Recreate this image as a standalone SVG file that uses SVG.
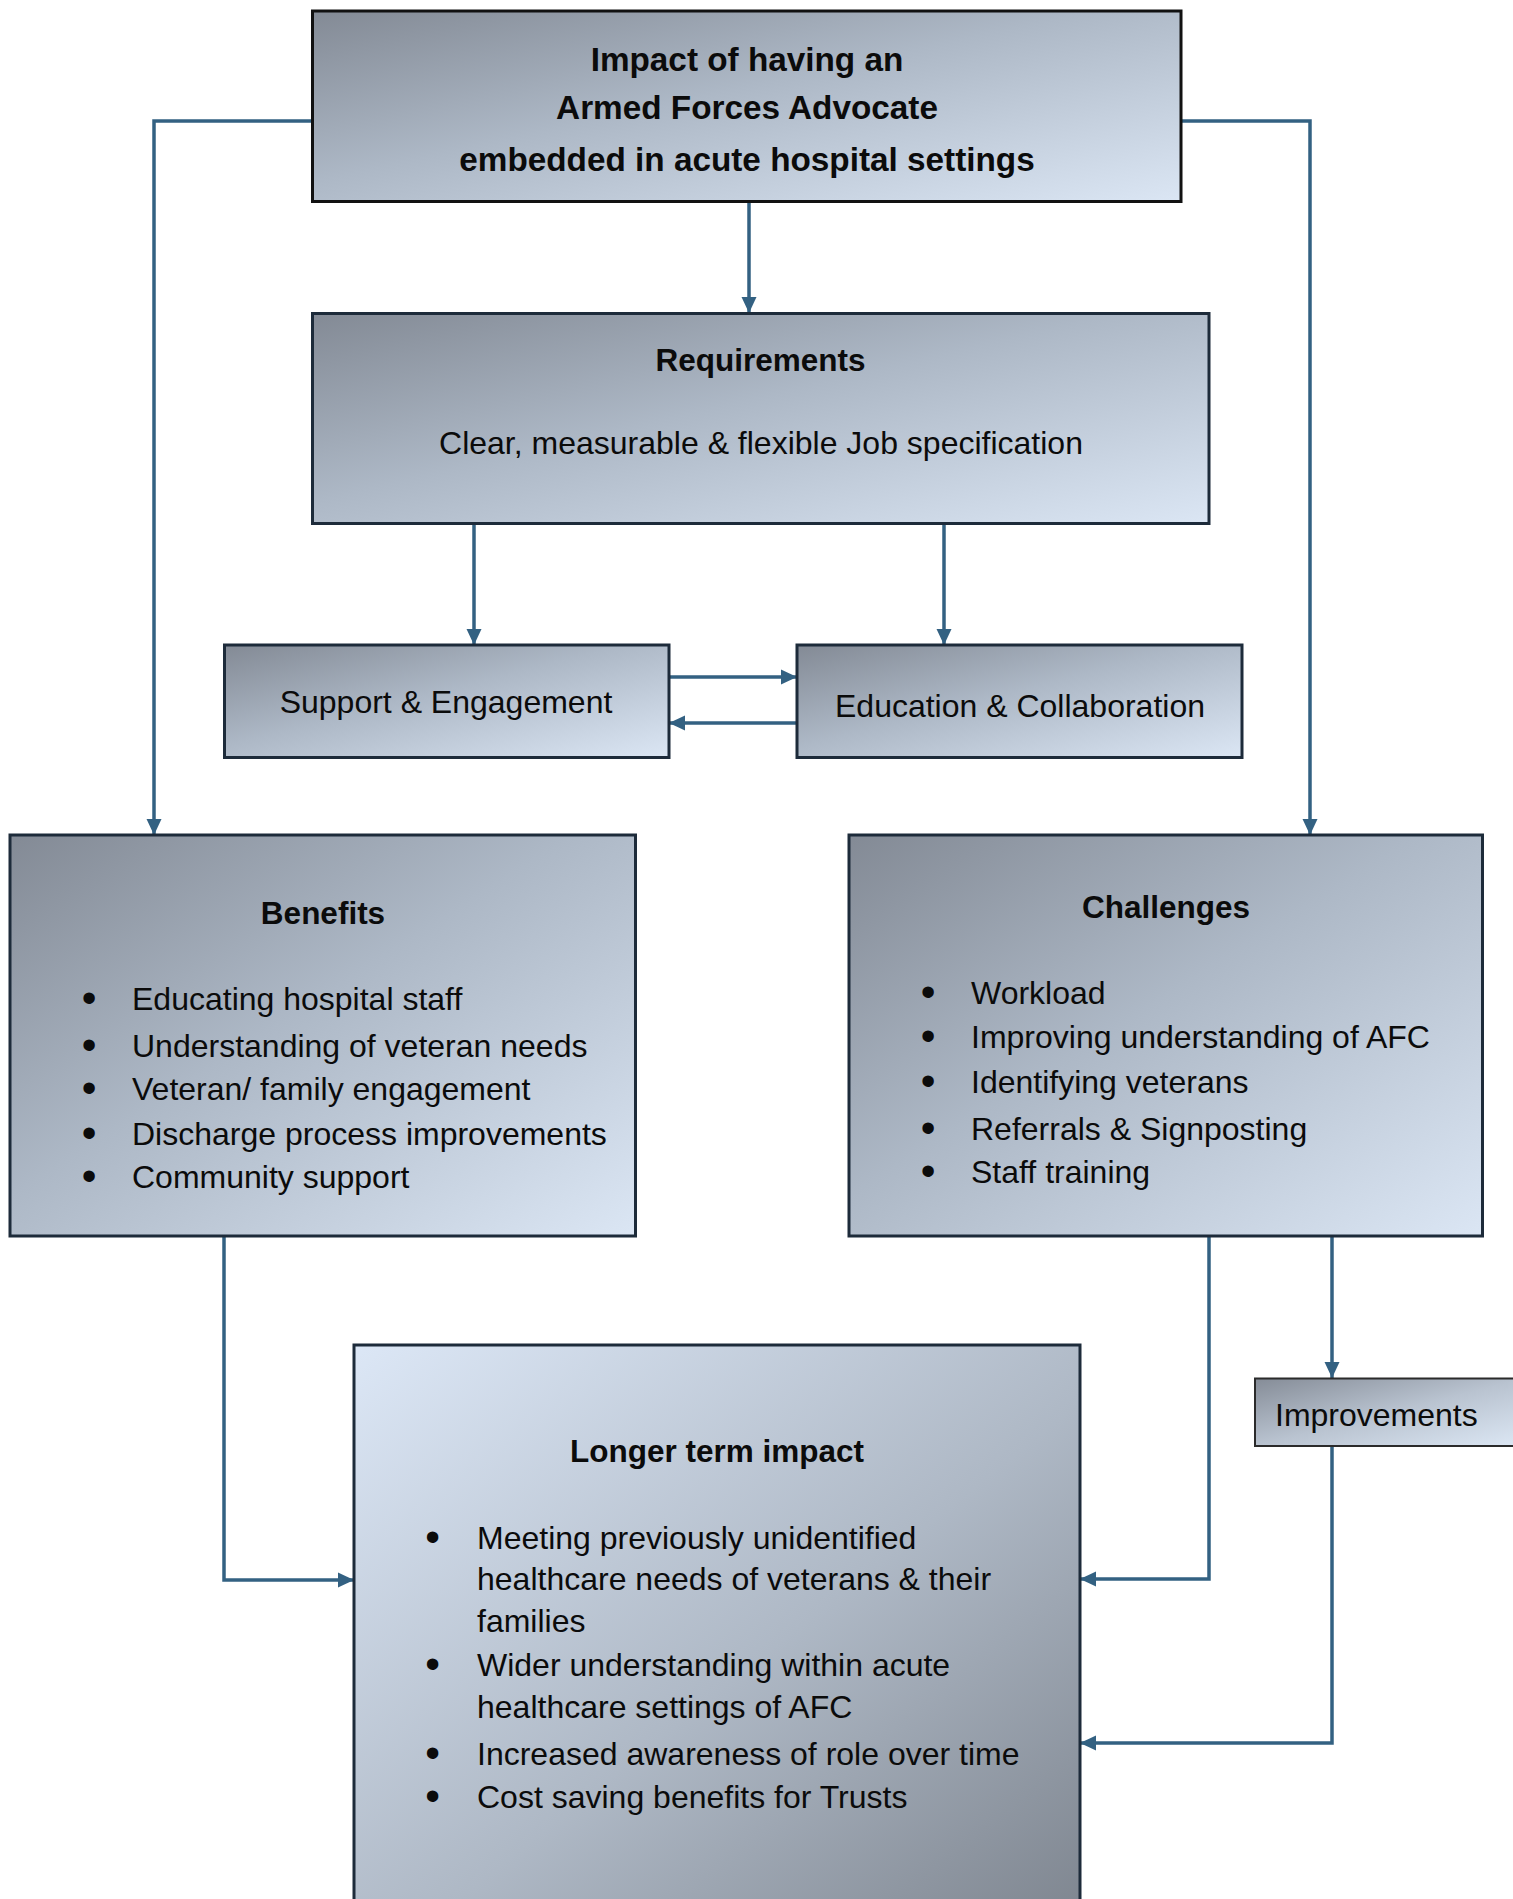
<svg xmlns="http://www.w3.org/2000/svg" width="1513" height="1899" viewBox="0 0 1513 1899">
<style>
.box{stroke:#1d2b3a;stroke-width:3}
.t{font-family:"Liberation Sans",Arial,sans-serif;font-size:32px;fill:#0b0b0b}
.b{font-weight:bold;font-size:31.5px}
.c{text-anchor:middle}
.bul{font-family:"Liberation Sans",Arial,sans-serif;font-size:42px;fill:#0b0b0b;text-anchor:middle}
.top{font-family:"Liberation Sans",Arial,sans-serif;font-size:33.3px;font-weight:bold;fill:#0b0b0b;text-anchor:middle}
.conn{fill:none;stroke:#336182;stroke-width:3.5}
</style>
<defs>
<linearGradient id="g" x1="0" y1="0" x2="1" y2="1">
<stop offset="0" stop-color="#838a95"/>
<stop offset="0.45" stop-color="#adb8c6"/>
<stop offset="1" stop-color="#dbe6f4"/>
</linearGradient>
<linearGradient id="gr" x1="0" y1="0" x2="1" y2="1">
<stop offset="0" stop-color="#dce7f6"/>
<stop offset="0.55" stop-color="#aeb8c5"/>
<stop offset="1" stop-color="#7e858f"/>
</linearGradient>
<linearGradient id="gi" x1="0" y1="0" x2="1" y2="1">
<stop offset="0" stop-color="#858c97"/>
<stop offset="0.5" stop-color="#b9c3d0"/>
<stop offset="1" stop-color="#dde8f5"/>
</linearGradient>
<marker id="ah" markerUnits="userSpaceOnUse" markerWidth="18" markerHeight="18" viewBox="0 0 18 18" refX="16" refY="9" orient="auto">
<path d="M0 1.5 L16 9 L0 16.5 Z" fill="#336182"/>
</marker>
</defs>

<g id="connectors">
<path class="conn" d="M749 202 V313" marker-end="url(#ah)"/>
<path class="conn" d="M312 121 H154 V835" marker-end="url(#ah)"/>
<path class="conn" d="M1181 121 H1310 V835" marker-end="url(#ah)"/>
<path class="conn" d="M474 524 V645" marker-end="url(#ah)"/>
<path class="conn" d="M944 524 V645" marker-end="url(#ah)"/>
<path class="conn" d="M669 677 H797" marker-end="url(#ah)"/>
<path class="conn" d="M797 723 H669" marker-end="url(#ah)"/>
<path class="conn" d="M224 1236 V1580 H354" marker-end="url(#ah)"/>
<path class="conn" d="M1209 1236 V1579 H1080" marker-end="url(#ah)"/>
<path class="conn" d="M1332 1236 V1378" marker-end="url(#ah)"/>
<path class="conn" d="M1332 1446 V1743 H1080" marker-end="url(#ah)"/>
</g>

<g id="node-top">
<rect x="312.5" y="11" width="868.5" height="190.5" fill="url(#g)" stroke="#111" stroke-width="3"/>
<text class="top" x="747" y="71">Impact of having an</text>
<text class="top" x="747" y="119">Armed Forces Advocate</text>
<text class="top" x="747" y="171">embedded in acute hospital settings</text>
</g>

<g id="node-requirements">
<rect class="box" x="312.5" y="313.5" width="896.5" height="210" fill="url(#g)"/>
<text class="t b c" x="760.5" y="371">Requirements</text>
<text class="t c" x="761" y="454">Clear, measurable &amp; flexible Job specification</text>
</g>

<g id="node-support">
<rect class="box" x="224.5" y="645" width="444.5" height="112.5" fill="url(#g)"/>
<text class="t c" x="446" y="713">Support &amp; Engagement</text>
</g>

<g id="node-education">
<rect class="box" x="797" y="645" width="445" height="112.5" fill="url(#g)"/>
<text class="t c" x="1020" y="717">Education &amp; Collaboration</text>
</g>

<g id="node-benefits">
<rect class="box" x="10" y="835" width="625.5" height="401" fill="url(#g)"/>
<text class="t b c" x="323" y="924">Benefits</text>
<text class="bul" x="89" y="1012">•</text><text class="t" x="132" y="1010">Educating hospital staff</text>
<text class="bul" x="89" y="1059">•</text><text class="t" x="132" y="1057">Understanding of veteran needs</text>
<text class="bul" x="89" y="1102">•</text><text class="t" x="132" y="1100">Veteran/ family engagement</text>
<text class="bul" x="89" y="1147">•</text><text class="t" x="132" y="1145">Discharge process improvements</text>
<text class="bul" x="89" y="1190">•</text><text class="t" x="132" y="1188">Community support</text>
</g>

<g id="node-challenges">
<rect class="box" x="849" y="835" width="633.5" height="401" fill="url(#g)"/>
<text class="t b c" x="1166" y="918">Challenges</text>
<text class="bul" x="928" y="1006">•</text><text class="t" x="971" y="1004">Workload</text>
<text class="bul" x="928" y="1050">•</text><text class="t" x="971" y="1048">Improving understanding of AFC</text>
<text class="bul" x="928" y="1095">•</text><text class="t" x="971" y="1093">Identifying veterans</text>
<text class="bul" x="928" y="1142">•</text><text class="t" x="971" y="1140">Referrals &amp; Signposting</text>
<text class="bul" x="928" y="1185">•</text><text class="t" x="971" y="1183">Staff training</text>
</g>

<g id="node-improvements">
<rect x="1255" y="1378.5" width="270" height="67.5" fill="url(#gi)" stroke="#2b2b2b" stroke-width="2"/>
<text class="t" x="1275" y="1426">Improvements</text>
</g>

<g id="node-longer">
<rect class="box" x="354" y="1345" width="726" height="580" fill="url(#gr)"/>
<text class="t b c" x="717" y="1462">Longer term impact</text>
<text class="bul" x="432.5" y="1551">•</text><text class="t" x="477" y="1549">Meeting previously unidentified</text>
<text class="t" x="477" y="1590">healthcare needs of veterans &amp; their</text>
<text class="t" x="477" y="1632">families</text>
<text class="bul" x="432.5" y="1678">•</text><text class="t" x="477" y="1676">Wider understanding within acute</text>
<text class="t" x="477" y="1718">healthcare settings of AFC</text>
<text class="bul" x="432.5" y="1767">•</text><text class="t" x="477" y="1765">Increased awareness of role over time</text>
<text class="bul" x="432.5" y="1810">•</text><text class="t" x="477" y="1808">Cost saving benefits for Trusts</text>
</g>
</svg>
